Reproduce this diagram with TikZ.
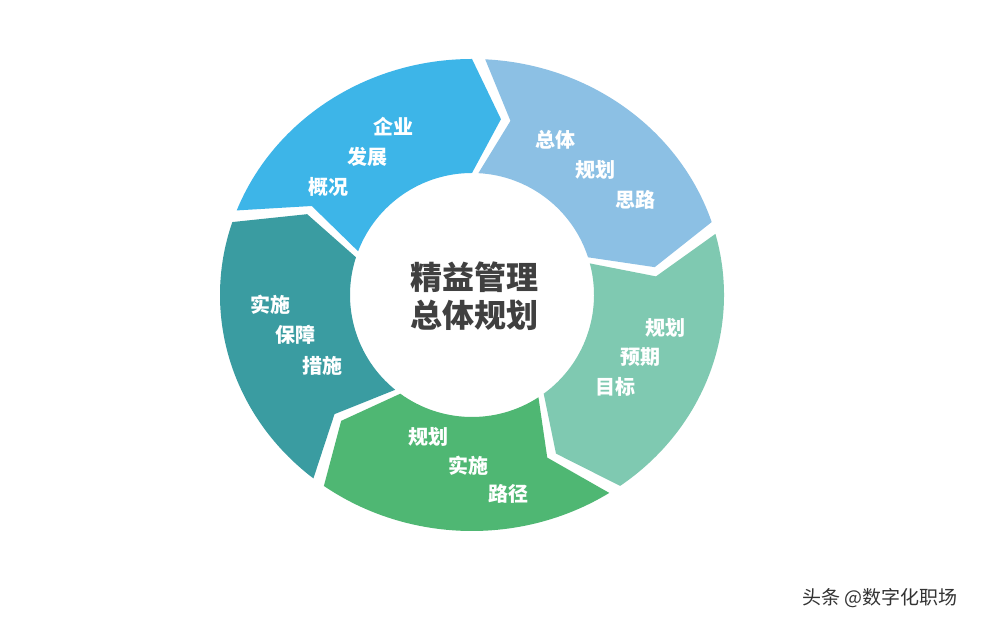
\documentclass[tikz,border=0pt]{standalone}
\usepackage{fontspec}
\newfontfamily\cjk{Noto Sans CJK SC}
\definecolor{cA}{HTML}{3DB5E8}
\definecolor{cB}{HTML}{8CC0E4}
\definecolor{cC}{HTML}{7FC9B1}
\definecolor{cD}{HTML}{4FB773}
\definecolor{cE}{HTML}{3A9CA1}
\tikzset{lab/.style={text=white,font=\cjk\bfseries\fontsize{20}{22}\selectfont},
cen/.style={text=black!75,font=\cjk\bfseries\fontsize{32}{38}\selectfont,align=center}}
\newcommand{\seg}[2]{%
\pgfmathsetmacro{\b}{#1-69}%
\fill[#2] (#1:252 and 236) arc[start angle=#1,end angle=\b,x radius=252,y radius=236]
 -- ({\b-9}:185 and 178) -- (\b:122) arc[start angle=\b,end angle=#1,radius=122]
 -- ({#1-9}:185 and 178) -- cycle;}
\begin{document}
\begin{tikzpicture}[x=1pt,y=1pt]
\useasboundingbox[fill=white] (0,0) rectangle (1004,628);
\begin{scope}[shift={(472,333)}]
\seg{159}{cA}
\seg{87}{cB}
\seg{15}{cC}
\seg{-57}{cD}
\seg{-129}{cE}
\end{scope}
\node[cen] (c) at (474,332) {精益管理\\总体规划};
\node[lab] (a1) at (393,501) {企业};
\node[lab] (a2) at (367,471) {发展};
\node[lab] (a3) at (328,441) {概况};
\node[lab] (b1) at (555,488) {总体};
\node[lab] (b2) at (595,458) {规划};
\node[lab] (b3) at (635,428) {思路};
\node[lab] (c1) at (665,300) {规划};
\node[lab] (c2) at (640,271) {预期};
\node[lab] (c3) at (615,241) {目标};
\node[lab] (d1) at (428,191) {规划};
\node[lab] (d2) at (468,162) {实施};
\node[lab] (d3) at (508,134) {路径};
\node[lab] (e1) at (270,323) {实施};
\node[lab] (e2) at (295,293) {保障};
\node[lab] (e3) at (322,262) {措施};
\node[text=black!80,font=\cjk\fontsize{19}{21}\selectfont] (w) at (880,30) {头条 @数字化职场};
\end{tikzpicture}
\end{document}
